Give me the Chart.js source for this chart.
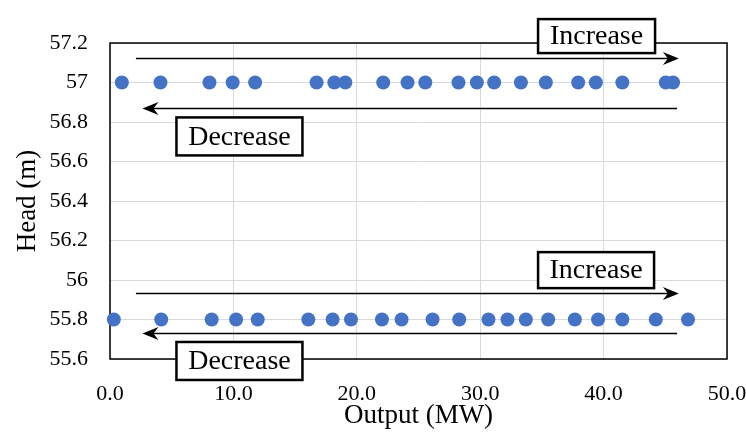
<!DOCTYPE html>
<html>
<head>
<meta charset="utf-8">
<title>Head vs Output</title>
<script src="https://cdn.jsdelivr.net/npm/chart.js@4.4.1/dist/chart.umd.min.js"></script>
<style>
  html, body { margin: 0; padding: 0; background: #ffffff; }
  #wrap { width: 746px; height: 432px; }
</style>
</head>
<body>
<div id="wrap"><canvas id="scatter-chart" width="746" height="432"></canvas></div>
<script>
// output (MW), one list per head level
var outputHigh = [0.96, 4.09, 8.06, 9.94, 11.76, 16.74, 18.18, 19.07, 22.14, 24.11, 25.55,
                  28.24, 29.73, 31.13, 33.30, 35.32, 37.94, 39.37, 41.52, 45.04, 45.63];
var outputLow = [0.31, 4.15, 8.24, 10.22, 11.97, 16.07, 18.04, 19.53, 22.04, 23.63, 26.14,
                 28.30, 30.67, 32.21, 33.70, 35.51, 37.67, 39.55, 41.52, 44.23, 46.84];
var headHigh = 57.0;
var headLow = 55.8;
var xTicks = [0, 10, 20, 30, 40, 50];
var yTicks = [55.6, 55.8, 56, 56.2, 56.4, 56.6, 56.8, 57, 57.2];

var serif = "'Liberation Serif', 'Times New Roman', serif";

function toPoints(xs, y) {
    var pts = [];
    for (var i = 0; i < xs.length; i++) {
        pts.push({ x: xs[i], y: y });
    }
    return pts;
}

// arrows and labelled boxes, placed in data units
var arrows = [
    { from: 2.1, to: 46.1, y: 57.126, head: true },
    { from: 45.95, to: 2.63, y: 56.87, head: true },
    { from: 2.1, to: 46.1, y: 55.933, head: true },
    { from: 45.95, to: 2.63, y: 55.733, head: true }
];
var boxes = [
    { text: "Increase", x: 39.43, y: 57.235, w: 117, h: 34 },
    { text: "Decrease", x: 10.49, y: 56.727, w: 126, h: 38 },
    { text: "Increase", x: 39.39, y: 56.05, w: 116, h: 36 },
    { text: "Decrease", x: 10.49, y: 55.59, w: 126, h: 38 }
];

var annotate = {
    id: 'annotate',
    beforeDatasetsDraw: function(chart) {
        // plot frame, under the markers
        var ctx = chart.ctx;
        var area = chart.chartArea;
        ctx.save();
        ctx.strokeStyle = '#000';
        ctx.lineWidth = 1.5;
        ctx.strokeRect(area.left, area.top, area.right - area.left, area.bottom - area.top);
        ctx.restore();
    },
    afterDatasetsDraw: function(chart) {
        var ctx = chart.ctx;
        var xs = chart.scales.x;
        var ys = chart.scales.y;
        ctx.save();
        ctx.strokeStyle = '#000';
        ctx.lineWidth = 1.3;
        ctx.fillStyle = '#000';
        for (var i = 0; i < arrows.length; i++) {
            var a = arrows[i];
            var x1 = xs.getPixelForValue(a.from);
            var x2 = xs.getPixelForValue(a.to);
            var y = Math.round(ys.getPixelForValue(a.y)) + 0.5;
            var dir = x2 > x1 ? 1 : -1;
            ctx.beginPath();
            ctx.moveTo(x1, y);
            ctx.lineTo(x2 - dir * 6, y);
            ctx.stroke();
            if (a.head) {
                ctx.beginPath();
                ctx.moveTo(x2, y);
                ctx.lineTo(x2 - dir * 16, y - 6.5);
                ctx.lineTo(x2 - dir * 11, y);
                ctx.lineTo(x2 - dir * 16, y + 6.5);
                ctx.closePath();
                ctx.fill();
            }
        }

        ctx.font = "28px " + serif;
        ctx.textAlign = 'center';
        ctx.textBaseline = 'middle';
        for (var j = 0; j < boxes.length; j++) {
            var b = boxes[j];
            var cx = xs.getPixelForValue(b.x);
            var cy = ys.getPixelForValue(b.y);
            ctx.fillStyle = '#fff';
            ctx.fillRect(cx - b.w / 2, cy - b.h / 2, b.w, b.h);
            ctx.strokeStyle = '#000';
            ctx.lineWidth = 2.5;
            ctx.strokeRect(cx - b.w / 2, cy - b.h / 2, b.w, b.h);
            ctx.fillStyle = '#000';
            ctx.fillText(b.text, cx, cy + 1);
        }
        ctx.restore();
    }
};

// fixed box sizes, no extra room asked for by the edge labels
function fixScale(size) {
    return function(scale) {
        if (scale.isHorizontal()) { scale.height = size; } else { scale.width = size; }
        scale.paddingLeft = 0;
        scale.paddingRight = 0;
        scale.paddingTop = 0;
        scale.paddingBottom = 0;
    };
}

new Chart(document.getElementById("scatter-chart"), {
    type: 'scatter',
    data: {
        datasets: [
            { label: 'High head', data: toPoints(outputHigh, headHigh), clip: false },
            { label: 'Low head', data: toPoints(outputLow, headLow), clip: false }
        ]
    },
    options: {
        responsive: false,
        animation: false,
        layout: { autoPadding: false, padding: { top: 43, right: 19, bottom: 0, left: 0 } },
        elements: {
            point: { radius: 7, hoverRadius: 7, backgroundColor: '#4472C4', borderWidth: 0 }
        },
        plugins: {
            legend: { display: false },
            tooltip: { enabled: false }
        },
        scales: {
            x: {
                type: 'linear',
                min: xTicks[0],
                max: xTicks[xTicks.length - 1],
                afterBuildTicks: function(scale) {
                    scale.ticks = xTicks.map(function(v) { return { value: v }; });
                },
                afterFit: fixScale(73),
                grid: { color: '#d9d9d9', lineWidth: 1, drawTicks: false },
                border: { display: false },
                ticks: {
                    padding: 22,
                    color: '#000',
                    font: { family: serif, size: 22 },
                    maxRotation: 0,
                    callback: function(v) { return Number(v).toFixed(1); }
                },
                title: {
                    display: true,
                    text: 'Output (MW)',
                    color: '#000',
                    font: { family: serif, size: 27, lineHeight: 1 },
                    padding: { top: 0, bottom: 3 }
                }
            },
            y: {
                type: 'linear',
                min: yTicks[0],
                max: yTicks[yTicks.length - 1],
                afterBuildTicks: function(scale) {
                    scale.ticks = yTicks.map(function(v) { return { value: v }; });
                },
                afterFit: fixScale(110),
                grid: { color: '#d9d9d9', lineWidth: 1, drawTicks: false },
                border: { display: false },
                ticks: {
                    padding: 22,
                    color: '#000',
                    font: { family: serif, size: 22 },
                    callback: function(v) { return String(parseFloat(Number(v).toFixed(1))); }
                },
                title: {
                    display: true,
                    text: 'Head (m)',
                    color: '#000',
                    font: { family: serif, size: 27, lineHeight: 1 },
                    padding: { top: 14, bottom: 0 }
                }
            }
        }
    },
    plugins: [annotate]
});
</script>
</body>
</html>
